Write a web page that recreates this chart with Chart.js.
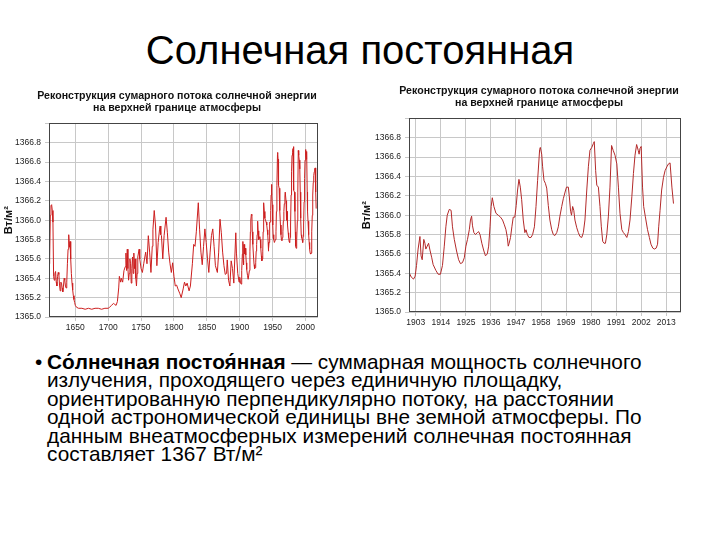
<!DOCTYPE html>
<html lang="ru">
<head>
  <meta charset="UTF-8" />
  <title>Солнечная постоянная</title>
  <script src="https://cdn.jsdelivr.net/npm/chart.js"></script>
  <style>
    html, body {
      margin: 0;
      padding: 0;
      width: 720px;
      height: 540px;
      overflow: hidden;
      background: #fff;
      font-family: "Liberation Sans", Arial, sans-serif;
    }
    h1 {
      position: absolute;
      left: 0;
      top: 27px;
      width: 720px;
      margin: 0;
      text-align: center;
      font-weight: normal;
      font-size: 40px;
      line-height: 46px;
      color: #000;
    }
    .chart-box { position: absolute; }
    #left-box { left: 0; top: 82px; width: 354px; height: 262px; }
    #right-box { left: 358px; top: 77px; width: 362px; height: 262px; }
    .text {
      position: absolute;
      left: 47px;
      top: 353px;
      font-size: 20.8px;
      line-height: 18.4px;
      white-space: nowrap;
      color: #000;
    }
    .text .bullet {
      position: absolute;
      left: -12px;
      top: 0;
    }
  </style>
</head>
<body>
  <h1>Солнечная постоянная</h1>

  <div class="chart-box" id="left-box"><canvas id="leftChart"></canvas></div>
  <div class="chart-box" id="right-box"><canvas id="rightChart"></canvas></div>

  <div class="text">
    <span class="bullet">•</span>
    <b>Со́лнечная постоя́нная</b> — суммарная мощность солнечного<br>
    излучения, проходящего через единичную площадку,<br>
    ориентированную перпендикулярно потоку, на расстоянии<br>
    одной астрономической единицы вне земной атмосферы. По<br>
    данным внеатмосферных измерений солнечная постоянная<br>
    составляет 1367 Вт/м²
  </div>

  <script>
    // reconstruction 1610-1899 (left chart only)
    const earlyYears = [
      1610, 1611, 1612, 1613, 1614, 1615, 1616, 1617, 1618, 1619,
      1620, 1621, 1622, 1623, 1624, 1625, 1626, 1627, 1628, 1629,
      1630, 1631, 1632, 1633, 1634, 1635, 1636, 1637, 1638, 1639,
      1640, 1641, 1642, 1643, 1644, 1645, 1646, 1647, 1648, 1649,
      1650, 1652, 1655, 1660, 1665, 1670, 1675, 1680, 1685, 1690,
      1695, 1700, 1702, 1705, 1708, 1710, 1712, 1714, 1716, 1717,
      1719, 1720, 1722, 1724, 1726, 1727, 1728, 1729, 1730, 1731,
      1732, 1733, 1734, 1735, 1736, 1737, 1738, 1739, 1740, 1741,
      1742, 1743, 1744, 1745, 1747, 1748, 1750, 1752, 1754, 1757,
      1759, 1761, 1763, 1765, 1767, 1768, 1770, 1772, 1774, 1776,
      1778, 1779, 1780, 1781, 1783, 1785, 1788, 1790, 1792, 1794,
      1796, 1798, 1800, 1802, 1804, 1806, 1809, 1811, 1814, 1816,
      1818, 1820, 1823, 1825, 1828, 1830, 1832, 1834, 1837, 1839,
      1841, 1843, 1845, 1847, 1849, 1851, 1853, 1855, 1857, 1859,
      1861, 1863, 1866, 1868, 1870, 1872, 1874, 1876, 1878, 1880,
      1881, 1883, 1885, 1887, 1889, 1891, 1894, 1895, 1897, 1899
    ];
    const earlyValues = [
      1365.55, 1365.62, 1366.05, 1366.15, 1366.16, 1366.10, 1365.98, 1365.42, 1365.38, 1365.45,
      1365.47, 1365.36, 1365.32, 1365.42, 1365.46, 1365.44, 1365.33, 1365.27, 1365.36, 1365.35,
      1365.30, 1365.26, 1365.32, 1365.40, 1365.38, 1365.32, 1365.30, 1365.36, 1365.55, 1365.70,
      1365.85, 1365.72, 1365.78, 1365.60, 1365.45, 1365.35, 1365.28, 1365.22, 1365.18, 1365.15,
      1365.12, 1365.10, 1365.09, 1365.09, 1365.08, 1365.09, 1365.08, 1365.09, 1365.09, 1365.08,
      1365.09, 1365.09, 1365.10, 1365.12, 1365.14, 1365.13, 1365.12, 1365.16, 1365.30, 1365.42,
      1365.36, 1365.40, 1365.36, 1365.48, 1365.52, 1365.66, 1365.48, 1365.70, 1365.50, 1365.38,
      1365.45, 1365.60, 1365.55, 1365.35, 1365.50, 1365.62, 1365.45, 1365.66, 1365.50, 1365.60,
      1365.40, 1365.32, 1365.45, 1365.62, 1365.70, 1365.60, 1365.50, 1365.46, 1365.55, 1365.67,
      1365.55, 1365.84, 1365.67, 1365.46, 1365.73, 1365.90, 1366.10, 1365.94, 1365.53, 1365.77,
      1365.90, 1365.94, 1365.85, 1365.84, 1365.60, 1365.84, 1366.03, 1365.87, 1365.67, 1365.55,
      1365.46, 1365.56, 1365.42, 1365.32, 1365.33, 1365.29, 1365.24, 1365.20, 1365.29, 1365.36,
      1365.32, 1365.35, 1365.27, 1365.32, 1365.55, 1365.75, 1365.73, 1365.88, 1366.18, 1365.90,
      1365.67, 1365.54, 1365.73, 1365.91, 1365.77, 1365.60, 1365.46, 1365.67, 1365.84, 1365.91,
      1365.73, 1365.53, 1365.46, 1365.67, 1366.01, 1365.87, 1365.67, 1365.53, 1365.44, 1365.45,
      1365.59, 1365.38, 1365.32, 1365.58, 1365.50, 1365.35, 1365.87, 1365.66, 1365.45, 1365.36
    ];

    // 1900-2016 (right chart, also the tail of the left one)
    const recentYears = [
      1900, 1901, 1902, 1902.7, 1903.3, 1904, 1904.8, 1905.3, 1905.8, 1906.5,
      1907, 1907.4, 1908, 1908.6, 1909.2, 1910, 1910.6, 1911.8, 1912.8, 1913.8,
      1914.7, 1915.5, 1916.2, 1916.8, 1917.7, 1918.5, 1919.1, 1919.9, 1920.9, 1921.8,
      1922.6, 1923.5, 1924.3, 1925, 1925.7, 1926.5, 1927, 1927.5, 1927.9, 1928.5,
      1929.2, 1930, 1930.6, 1931.2, 1932, 1932.9, 1933.6, 1934.4, 1935, 1935.6,
      1936.1, 1936.6, 1937.3, 1938.2, 1939.2, 1940.2, 1941.1, 1941.9, 1942.6, 1943.2,
      1943.6, 1944, 1944.6, 1945.2, 1945.8, 1946.5, 1947.1, 1947.7, 1948.3, 1948.9,
      1949.5, 1950.2, 1950.9, 1951.4, 1952, 1952.7, 1953.6, 1954.3, 1955.1, 1955.8,
      1956.5, 1957.4, 1957.7, 1958.3, 1958.7, 1959.3, 1959.9, 1960.5, 1961.2, 1961.9,
      1962.7, 1963.4, 1964.1, 1964.9, 1965.6, 1966.3, 1967.1, 1967.8, 1968.7, 1969.2,
      1970, 1970.4, 1971, 1971.4, 1971.9, 1972.4, 1972.9, 1973.7, 1974.4, 1975.1,
      1975.9, 1976.6, 1977.3, 1978.1, 1978.8, 1979.5, 1980.3, 1981, 1981.4, 1982,
      1982.5, 1983.2, 1983.9, 1984.5, 1985.1, 1985.7, 1986.3, 1986.9, 1987.6, 1988.3,
      1989, 1989.7, 1990.5, 1991.3, 1992, 1992.7, 1993.5, 1994.2, 1994.9, 1995.7,
      1996.4, 1997.1, 1997.9, 1998.6, 1999.3, 2000, 2000.7, 2001.1, 2001.5, 2002,
      2002.6, 2003.1, 2003.8, 2004.8, 2005.6, 2006.3, 2007.1, 2007.8, 2008.6, 2009.2,
      2009.7, 2010.3, 2011, 2011.8, 2012.5, 2013.3, 2014, 2014.7, 2015.5, 2016.2
    ];
    const recentValues = [
      1365.41, 1365.36, 1365.34, 1365.37, 1365.48, 1365.65, 1365.78, 1365.58, 1365.54, 1365.75,
      1365.71, 1365.65, 1365.68, 1365.71, 1365.64, 1365.56, 1365.49, 1365.43, 1365.39, 1365.39,
      1365.48, 1365.68, 1365.88, 1366.00, 1366.06, 1366.05, 1365.88, 1365.75, 1365.63, 1365.54,
      1365.50, 1365.51, 1365.56, 1365.68, 1365.75, 1365.85, 1365.95, 1365.99, 1365.89, 1365.82,
      1365.80, 1365.82, 1365.83, 1365.80, 1365.71, 1365.63, 1365.58, 1365.60, 1365.68, 1365.88,
      1366.09, 1366.18, 1366.09, 1366.02, 1366.00, 1365.98, 1365.95, 1365.90, 1365.85, 1365.77,
      1365.68, 1365.71, 1365.77, 1365.88, 1365.98, 1365.98, 1366.10, 1366.26, 1366.37, 1366.29,
      1366.16, 1365.95, 1365.82, 1365.85, 1365.80, 1365.77, 1365.77, 1365.80, 1365.88, 1366.09,
      1366.36, 1366.68, 1366.70, 1366.63, 1366.50, 1366.36, 1366.33, 1366.28, 1366.10, 1365.95,
      1365.85, 1365.80, 1365.79, 1365.82, 1365.88, 1365.99, 1366.09, 1366.17, 1366.25, 1366.29,
      1366.29, 1366.20, 1366.04, 1366.00, 1366.09, 1366.05, 1365.95, 1365.87, 1365.82, 1365.78,
      1365.77, 1365.82, 1365.95, 1366.26, 1366.50, 1366.67, 1366.70, 1366.74, 1366.76, 1366.46,
      1366.31, 1366.29, 1366.09, 1365.88, 1365.73, 1365.71, 1365.71, 1365.80, 1365.99, 1366.29,
      1366.72, 1366.67, 1366.62, 1366.53, 1366.29, 1366.02, 1365.85, 1365.82, 1365.80, 1365.77,
      1365.83, 1365.95, 1366.19, 1366.43, 1366.62, 1366.73, 1366.67, 1366.63, 1366.69, 1366.71,
      1366.29, 1366.09, 1365.99, 1365.85, 1365.77, 1365.70, 1365.66, 1365.65, 1365.66, 1365.70,
      1365.88, 1366.05, 1366.26, 1366.39, 1366.46, 1366.50, 1366.53, 1366.54, 1366.29, 1366.12
    ];

    const yTicks = [1365.0, 1365.2, 1365.4, 1365.6, 1365.8, 1366.0, 1366.2, 1366.4, 1366.6, 1366.8, 1367.0];
    const leftXTicks = [1650, 1700, 1750, 1800, 1850, 1900, 1950, 2000];
    const rightXTicks = [1903, 1914, 1925, 1936, 1947, 1958, 1969, 1980, 1991, 2002, 2013];

    const chartTitle = ['Реконструкция сумарного потока солнечной энергии', 'на верхней границе атмосферы'];
    const unitLabel = 'Вт/м²';

    const tickFont = { family: '"Liberation Sans Narrow", "Liberation Sans", Arial', size: 8.5 };

    // frame around the plot area
    const framePlugin = {
      id: 'frame',
      afterDatasetsDraw(chart) {
        const a = chart.chartArea;
        const ctx = chart.ctx;
        ctx.save();
        ctx.strokeStyle = '#444';
        ctx.lineWidth = 1;
        ctx.strokeRect(Math.round(a.left) + 0.5, Math.round(a.top) + 0.5,
          Math.round(a.right - a.left) - 1, Math.round(a.bottom - a.top) - 1);
        ctx.restore();
      }
    };

    function makeChart(canvasId, points, xMin, xMax, xTicks, yWidth, rightPad, color) {
      return new Chart(document.getElementById(canvasId), {
        type: 'line',
        data: {
          datasets: [{
            data: points,
            borderColor: color,
            borderWidth: 1,
            pointRadius: 0,
            tension: 0,
            fill: false
          }]
        },
        options: {
          responsive: true,
          maintainAspectRatio: false,
          animation: false,
          parsing: false,
          layout: { padding: 0 },
          plugins: {
            legend: { display: false },
            tooltip: { enabled: false },
            title: {
              display: true,
              text: chartTitle,
              color: '#111',
              font: { family: '"Liberation Sans", Arial', size: 10.6, weight: 'bold', lineHeight: 1.15 },
              padding: { top: 8, bottom: 9 }
            }
          },
          scales: {
            x: {
              type: 'linear',
              min: xMin,
              max: xMax,
              afterBuildTicks: s => { s.ticks = xTicks.map(v => ({ value: v })); },
              afterFit: s => { s.height = 27; s.paddingRight = rightPad; s.paddingLeft = 0; },
              grid: { color: '#c8c8c8', lineWidth: 1, tickLength: 4, drawOnChartArea: true },
              border: { display: false },
              ticks: {
                color: '#222',
                font: tickFont,
                padding: 2,
                maxRotation: 0,
                autoSkip: false,
                callback: v => String(v)
              }
            },
            y: {
              min: 1365,
              max: 1367,
              afterBuildTicks: s => { s.ticks = yTicks.map(v => ({ value: v })); },
              afterFit: s => { s.width = yWidth; },
              grid: { color: '#c8c8c8', lineWidth: 1, tickLength: 4 },
              border: { display: false },
              ticks: {
                color: '#222',
                font: tickFont,
                padding: 4,
                autoSkip: false,
                callback: v => (v >= 1367 ? '' : v.toFixed(1))
              },
              title: {
                display: true,
                text: unitLabel,
                color: '#111',
                font: { family: '"Liberation Sans", Arial', size: 11, weight: 'bold' },
                padding: { top: 2, bottom: 0 }
              }
            }
          }
        },
        plugins: [framePlugin]
      });
    }

    const leftPoints = earlyYears.map((x, i) => ({ x, y: earlyValues[i] }))
      .concat(recentYears.map((x, i) => ({ x, y: recentValues[i] })));
    const rightPoints = recentYears.map((x, i) => ({ x, y: recentValues[i] }));

    makeChart('leftChart', leftPoints, 1610, 2019, leftXTicks, 49, 36, '#cc1f1f');
    makeChart('rightChart', rightPoints, 1900, 2019.5, rightXTicks, 51, 39, '#b32a2a');
  </script>
</body>
</html>
